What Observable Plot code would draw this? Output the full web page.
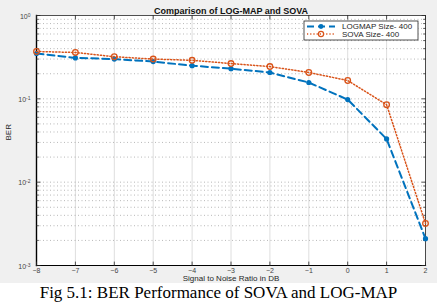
<!DOCTYPE html>
<html>
<head>
<meta charset="utf-8">
<script src="https://cdn.jsdelivr.net/npm/d3@7"></script>
<script src="https://cdn.jsdelivr.net/npm/@observablehq/plot@0.6"></script>
<style>
  body { margin: 0; background: #fff; }
  #fig { width: 437px; height: 283px; background: #f0f0f0; overflow: hidden; }
  #cap { width: 437px; text-align: center; font-family: "Liberation Serif", "Times New Roman", serif; font-size: 17px; line-height: 19px; color: #000; }
</style>
</head>
<body>
<div id="fig"></div>
<div id="cap">Fig 5.1: BER Performance of SOVA and LOG-MAP</div>
<script>
// SNR sweep (dB) and bit error rates for the two decoders
const snr = [-8, -7, -6, -5, -4, -3, -2, -1, 0, 1, 2];
const logmapBer = [0.35, 0.31, 0.30, 0.28, 0.25, 0.23, 0.207, 0.157, 0.098, 0.033, 0.0021];
const sovaBer = [0.37, 0.36, 0.32, 0.30, 0.29, 0.265, 0.244, 0.207, 0.166, 0.085, 0.0032];
const xTicks = [-8, -7, -6, -5, -4, -3, -2, -1, 0, 1, 2];
const yTicks = [1e-3, 1e-2, 1e-1, 1];
const yTickExponents = ["-3", "-2", "-1", "0"];
const seriesNames = ["LOGMAP Size- 400", "SOVA Size- 400"];

const blue = "#0072BD", orange = "#D95319", ink = "#262626";

const logmap = snr.map((x, i) => ({x, y: logmapBer[i]}));
const sova = snr.map((x, i) => ({x, y: sovaBer[i]}));

// log grid: every integer multiple inside each decade
const yMinor = [];
for (let e = -3; e < 0; e++) for (let m = 2; m <= 9; m++) yMinor.push(m * 10 ** e);
const yGrid = yMinor.concat([1e-2, 1e-1]);

// short inward tick, drawn as a vector shape
const tick = {draw(ctx, l) { ctx.moveTo(0, 0); ctx.lineTo(0, -l); }};
const sovaDash = "1.2,2";

const chart = Plot.plot({
  width: 437,
  height: 283,
  marginLeft: 36,
  marginRight: 12,
  marginTop: 15,
  marginBottom: 18,
  style: {background: "transparent", fontFamily: "Liberation Sans, Arial, sans-serif", fontSize: "7px", color: ink},
  x: {domain: [-8, 2]},
  y: {type: "log", domain: [1e-3, 1]},
  marks: [
    Plot.frame({fill: "white", stroke: null}),
    Plot.ruleX(xTicks, {stroke: "#dedede", strokeWidth: 1}),
    Plot.ruleY(yGrid, {stroke: "#9a9a9a", strokeWidth: 0.7, strokeDasharray: "1,2.5"}),
    Plot.frame({stroke: ink, strokeWidth: 0.8}),
    Plot.frame({anchor: "left", stroke: "#000", strokeWidth: 1.4}),
    Plot.frame({anchor: "bottom", stroke: "#000", strokeWidth: 1.2}),
    // inward ticks on all four sides
    Plot.vector(xTicks, {x: d => d, frameAnchor: "bottom", length: 3.5, anchor: "start", rotate: 0, shape: tick, stroke: ink, strokeWidth: 0.8}),
    Plot.vector(xTicks, {x: d => d, frameAnchor: "top", length: 3.5, anchor: "start", rotate: 180, shape: tick, stroke: ink, strokeWidth: 0.8}),
    Plot.vector(yMinor, {y: d => d, frameAnchor: "left", length: 2, anchor: "start", rotate: 90, shape: tick, stroke: ink, strokeWidth: 0.7}),
    Plot.vector(yMinor, {y: d => d, frameAnchor: "right", length: 2, anchor: "start", rotate: -90, shape: tick, stroke: ink, strokeWidth: 0.7}),
    Plot.vector(yTicks, {y: d => d, frameAnchor: "left", length: 3.5, anchor: "start", rotate: 90, shape: tick, stroke: ink, strokeWidth: 0.8}),
    Plot.vector(yTicks, {y: d => d, frameAnchor: "right", length: 3.5, anchor: "start", rotate: -90, shape: tick, stroke: ink, strokeWidth: 0.8}),
    Plot.axisX({ticks: xTicks, tickSize: 0, tickPadding: 3, label: null, fill: "#444"}),
    Plot.axisY({ticks: yTicks, tickSize: 0, tickPadding: 6, tickFormat: () => "10", label: null, fill: "#444", dy: 1}),
    // series
    Plot.line(logmap, {x: "x", y: "y", stroke: blue, strokeWidth: 2, strokeDasharray: "7,4"}),
    Plot.dot(logmap, {x: "x", y: "y", fill: blue, r: 2.6}),
    Plot.line(sova, {x: "x", y: "y", stroke: orange, strokeWidth: 1.5, strokeDasharray: sovaDash}),
    Plot.dot(sova, {x: "x", y: "y", stroke: orange, fill: "none", r: 2.8, strokeWidth: 1.3}),
    // titles
    Plot.text(["Comparison of LOG-MAP and SOVA"], {frameAnchor: "top", dy: -8, fontWeight: "bold", fontSize: 9, fill: "#111"}),
    Plot.text(["Signal to Noise Ratio in DB"], {frameAnchor: "bottom", dy: 15, fontSize: 8, fill: ink}),
    Plot.text(["BER"], {frameAnchor: "left", dx: -28, rotate: -90, fontSize: 8, fill: ink})
  ]
});

const svg = d3.select(chart);

// decade labels: base 10 with a raised exponent
svg.selectAll('g[aria-label="y-axis tick label"] text').each(function(_, i) {
  d3.select(this).append("tspan").attr("dy", "-0.45em").attr("font-size", 5).text(yTickExponents[i]);
});

// legend box in the upper right of the axes
const lg = svg.append("g").attr("transform", "translate(304,21)").attr("text-anchor", "start");
lg.append("rect").attr("width", 114).attr("height", 19).attr("fill", "white").attr("stroke", ink).attr("stroke-width", 0.8);
const rows = [
  {name: seriesNames[0], color: blue, dash: "7,4", w: 2, filled: true},
  {name: seriesNames[1], color: orange, dash: sovaDash, w: 1.5, filled: false}
];
rows.forEach((r, i) => {
  const y = 5.5 + i * 7.5;
  lg.append("line").attr("x1", 3).attr("x2", 31).attr("y1", y).attr("y2", y)
    .attr("stroke", r.color).attr("stroke-width", r.w).attr("stroke-dasharray", r.dash);
  lg.append("circle").attr("cx", 17).attr("cy", y).attr("r", r.filled ? 2.4 : 2.6)
    .attr("fill", r.filled ? r.color : "none").attr("stroke", r.filled ? "none" : r.color).attr("stroke-width", 1.2);
  lg.append("text").attr("x", 38).attr("y", y).attr("dy", "0.35em")
    .attr("font-size", 8).attr("fill", ink).text(r.name);
});

document.getElementById("fig").appendChild(chart);
</script>
</body>
</html>
